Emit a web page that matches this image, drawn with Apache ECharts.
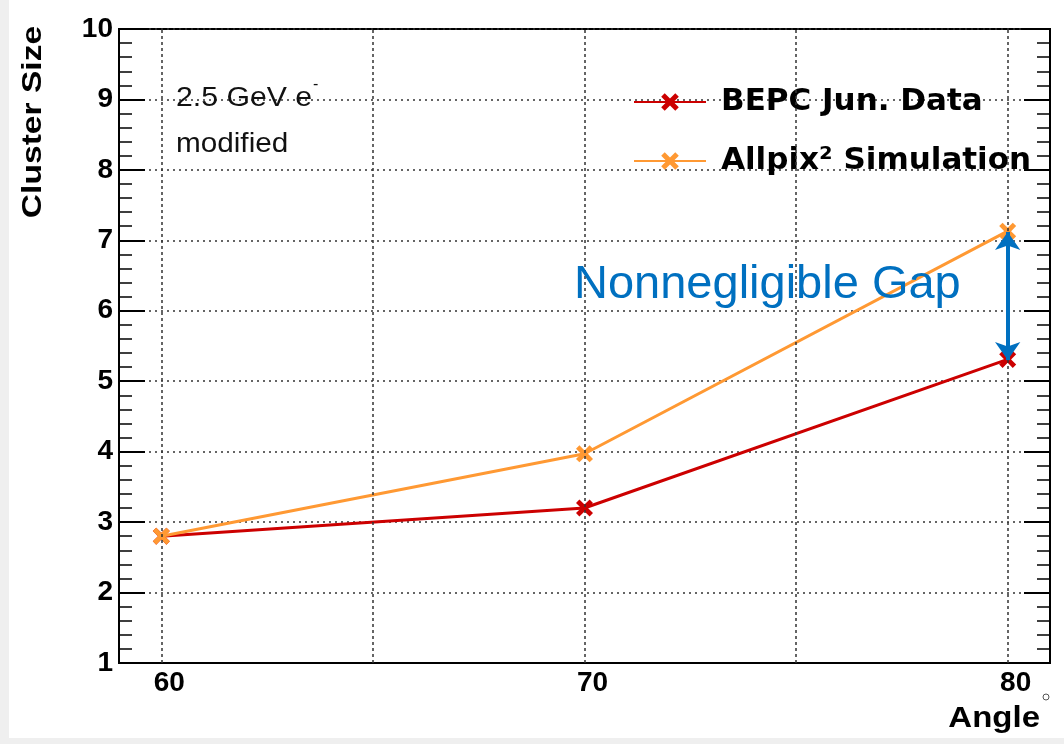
<!DOCTYPE html>
<html>
<head>
<meta charset="utf-8">
<script src="https://cdn.jsdelivr.net/npm/echarts@6/dist/echarts.min.js"></script>
<style>
html,body{margin:0;padding:0;background:#fff;}
#chart{width:1064px;height:744px;}
</style>
</head>
<body>
<div id="chart"></div>
<script>
const angles = [60, 70, 80];
const bepcData = [2.80, 3.20, 5.31];
const allpixData = [2.80, 3.97, 7.13];
const xTickLabels = [60, 70, 80];
const xGridValues = [60, 65, 70, 75, 80];
const gapRange = [5.30, 7.12];
const seriesNames = ['BEPC Jun. Data', 'Allpix\u00B2 Simulation'];

const FONT = '"Liberation Sans", Arial, Helvetica, sans-serif';
const WIDE = '"DejaVu Sans", "Liberation Sans", sans-serif';
const xMark = 'path://M0,2 L2,0 L5,3 L8,0 L10,2 L7,5 L10,8 L8,10 L5,7 L2,10 L0,8 L3,5 Z';

const chart = echarts.init(document.getElementById('chart'), null, {renderer: 'canvas'});

const option = {
  backgroundColor: '#ffffff',
  animation: false,
  grid: {left: 119, right: 14, top: 29, bottom: 81, show: true, borderColor: '#000', borderWidth: 2, backgroundColor: 'transparent'},
  legend: {
    left: 628, top: 79, orient: 'vertical', itemWidth: 72, itemHeight: 22, itemGap: 23,
    textStyle: {fontFamily: WIDE, fontWeight: 'bold', fontSize: 31, color: '#000', lineHeight: 36, padding: [0, 0, 0, 10]},
    data: seriesNames
  },
  xAxis: {
    type: 'value', min: 59, max: 81, interval: 1,
    axisLine: {show: true, onZero: false, lineStyle: {color: '#000', width: 2}},
    axisTick: {show: false},
    splitLine: {show: false},
    axisLabel: {
      fontFamily: FONT, fontWeight: 'bold', fontSize: 28, color: '#000', margin: 6, padding: [0, 0, 0, 16],
      formatter: v => xTickLabels.indexOf(v) >= 0 ? String(v) : ''
    }
  },
  yAxis: [{
    type: 'value', min: 1, max: 10, interval: 1, position: 'left',
    axisLine: {show: true, lineStyle: {color: '#000', width: 2}},
    axisTick: {show: true, inside: true, length: 26, lineStyle: {color: '#000', width: 2}},
    minorTick: {show: true, splitNumber: 5, length: 13, lineStyle: {color: '#000', width: 1.5}},
    splitLine: {show: true, lineStyle: {color: '#333', width: 1.5, type: [2, 4]}},
    axisLabel: {fontFamily: FONT, fontWeight: 'bold', fontSize: 28, color: '#000', margin: 6}
  }, {
    type: 'value', min: 1, max: 10, interval: 1, position: 'right',
    axisLine: {show: true, lineStyle: {color: '#000', width: 2}},
    axisTick: {show: true, inside: true, length: 26, lineStyle: {color: '#000', width: 2}},
    minorTick: {show: true, splitNumber: 5, length: 13, lineStyle: {color: '#000', width: 1.5}},
    splitLine: {show: false},
    axisLabel: {show: false}
  }],
  series: [{
    name: 'grid-v', type: 'line', data: [], silent: true,
    markLine: {
      silent: true, symbol: 'none', label: {show: false}, animation: false,
      lineStyle: {color: '#333', width: 1.5, type: [3, 3]},
      data: xGridValues.map(v => ({xAxis: v}))
    }
  }, {
    name: seriesNames[0], type: 'line', yAxisIndex: 0,
    data: angles.map((a, i) => [a, bepcData[i]]),
    color: '#CC0000',
    lineStyle: {color: '#CC0000', width: 3},
    itemStyle: {color: '#CC0000'},
    symbol: xMark, symbolSize: 17, z: 3
  }, {
    name: seriesNames[1], type: 'line', yAxisIndex: 0,
    data: angles.map((a, i) => [a, allpixData[i]]),
    color: '#FF9933',
    lineStyle: {color: '#FF9933', width: 3},
    itemStyle: {color: '#FF9933'},
    symbol: xMark, symbolSize: 17, z: 4,
    markLine: {
      silent: true, z: 10, symbol: ['arrow', 'arrow'], symbolSize: [19, 18], label: {show: false}, animation: false,
      lineStyle: {color: '#0070C0', width: 4, type: 'solid'},
      data: [[{coord: [80, gapRange[0]]}, {coord: [80, gapRange[1]]}]]
    }
  }],
  graphic: [
    {type: 'rect', left: 0, top: 0, shape: {width: 9, height: 744}, style: {fill: '#efefef'}, silent: true},
    {type: 'rect', left: 0, top: 738, shape: {width: 1064, height: 6}, style: {fill: '#efefef'}, silent: true},
    {type: 'text', x: 33, y: 122, rotation: Math.PI / 2, scaleX: 1.2,
      style: {text: 'Cluster Size', fontFamily: FONT, fontWeight: 'bold', fontSize: 28, fill: '#000', align: 'center', verticalAlign: 'middle'}},
    {type: 'text', x: 1040, y: 719, scaleX: 1.1,
      style: {text: 'Angle', fontFamily: FONT, fontWeight: 'bold', fontSize: 30, fill: '#000', align: 'right', verticalAlign: 'middle'}},
    {type: 'circle', shape: {cx: 1046, cy: 697, r: 3}, style: {fill: 'none', stroke: '#555', lineWidth: 1}},
    {type: 'text', x: 176, y: 99, z: 20, scaleX: 1.12,
      style: {text: '2.5 GeV e', fontFamily: FONT, fontSize: 27, fill: '#111', align: 'left', verticalAlign: 'middle'}},
    {type: 'text', x: 313, y: 85, z: 20,
      style: {text: '-', fontFamily: FONT, fontSize: 16, fill: '#111', align: 'left', verticalAlign: 'middle'}},
    {type: 'text', x: 176, y: 145, z: 20, scaleX: 1.1,
      style: {text: 'modified', fontFamily: FONT, fontSize: 27, fill: '#111', align: 'left', verticalAlign: 'middle'}},
    {type: 'text', x: 574, y: 285, z: 20,
      style: {text: 'Nonnegligible Gap', fontFamily: FONT, fontSize: 47, fill: '#0070C0', align: 'left', verticalAlign: 'middle'}}
  ]
};
chart.setOption(option);
</script>
</body>
</html>
